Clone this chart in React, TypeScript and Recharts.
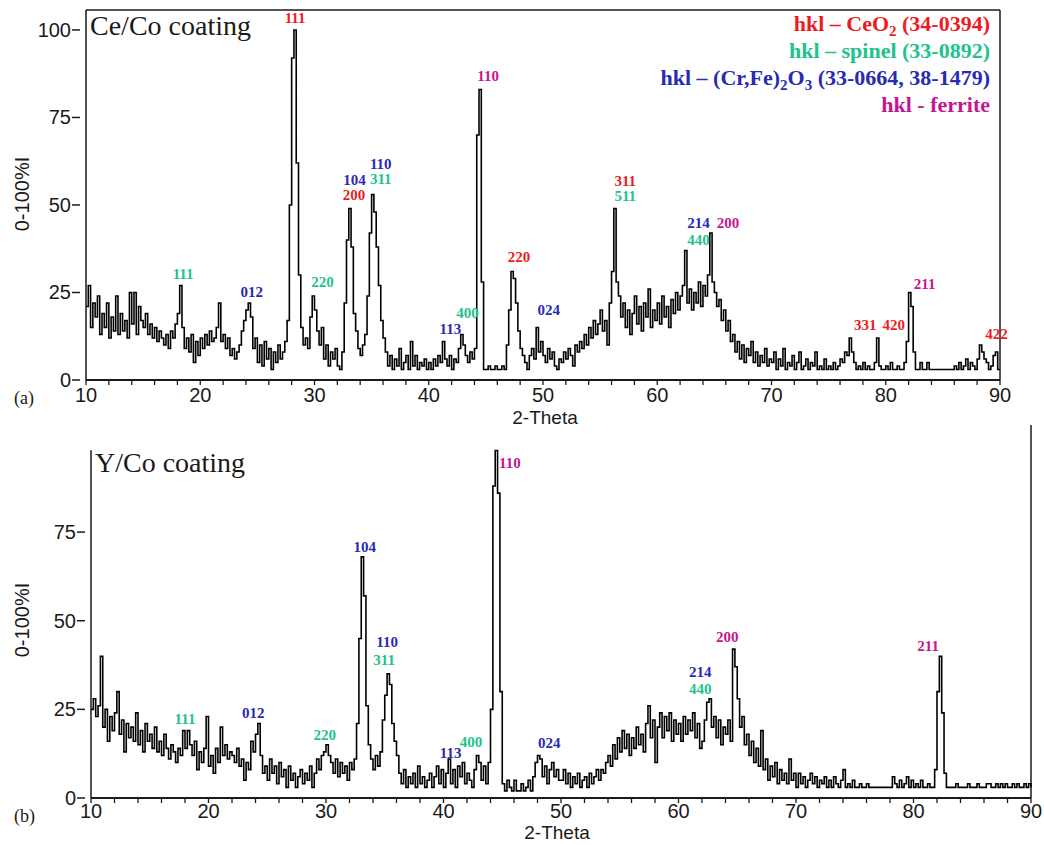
import React from "react";
import { ComposedChart, Line, Scatter, XAxis, YAxis, ReferenceLine } from "recharts";

// ─── Data ─────────────────────────────────────────────────────────────────────
// intensities (0-100 %I) from 10.0° to 89.8° 2-theta in 0.2° steps, plus 90.0°

const START = 10;
const STEP = 0.2;

const ceCo10 = [
  21, 27, 15, 22, 18, 24, 13, 19, 15, 22,
  12, 18, 14, 24, 13, 19, 14, 17, 12, 25,
  16, 25, 13, 21, 17, 15, 19, 13, 16, 12,
  15, 11, 14, 12, 10, 13, 9, 14, 12, 16,
  19, 27, 15, 9, 12, 8, 13, 5, 11, 7,
];
const ceCo20 = [
  12, 9, 13, 10, 14, 11, 12, 15, 22, 11,
  13, 9, 12, 7, 9, 6, 8, 10, 14, 17,
  20, 22, 18, 9, 12, 5, 10, 4, 11, 6,
  9, 3, 8, 5, 10, 6, 8, 11, 17, 50,
  92, 100, 62, 30, 15, 10, 12, 9, 18, 24,
];
const ceCo30 = [
  20, 14, 10, 15, 6, 10, 4, 8, 6, 9,
  4, 3, 8, 22, 40, 49, 38, 19, 14, 9,
  7, 10, 13, 24, 42, 53, 48, 38, 27, 17,
  12, 8, 4, 7, 3, 6, 4, 9, 3, 5,
  7, 3, 11, 4, 7, 3, 5, 4, 6, 3,
];
const ceCo40 = [
  5, 3, 6, 4, 7, 5, 11, 6, 4, 7,
  3, 6, 5, 9, 13, 10, 7, 5, 8, 6,
  9, 70, 83, 28, 3, 3, 4, 3, 3, 4,
  3, 3, 4, 3, 10, 20, 31, 29, 22, 14,
  9, 7, 5, 3, 7, 9, 6, 15, 8, 11,
];
const ceCo50 = [
  7, 5, 9, 6, 8, 4, 3, 6, 5, 8,
  6, 9, 7, 4, 10, 8, 11, 9, 13, 10,
  15, 12, 17, 13, 16, 20, 14, 17, 10, 22,
  31, 49, 28, 24, 18, 22, 15, 20, 13, 19,
  24, 16, 21, 14, 22, 18, 26, 15, 20, 17,
];
const ceCo60 = [
  22, 16, 24, 18, 21, 15, 23, 19, 25, 20,
  24, 27, 37, 22, 26, 20, 25, 22, 28, 21,
  27, 24, 30, 42, 28, 25, 21, 23, 17, 20,
  14, 17, 11, 13, 8, 11, 6, 10, 5, 9,
  7, 11, 5, 8, 4, 7, 5, 9, 4, 6,
];
const ceCo70 = [
  5, 8, 3, 6, 4, 9, 3, 5, 4, 7,
  3, 5, 8, 3, 4, 6, 3, 5, 4, 8,
  3, 4, 3, 6, 3, 4, 3, 5, 3, 4,
  6, 5, 8, 7, 12, 8, 5, 3, 4, 3,
  5, 3, 4, 3, 3, 5, 12, 4, 3, 3,
];
const ceCo80 = [
  4, 3, 5, 3, 3, 4, 3, 3, 5, 11,
  25, 21, 8, 3, 3, 5, 3, 3, 5, 3,
  3, 3, 3, 3, 3, 3, 3, 3, 3, 3,
  4, 3, 5, 3, 4, 6, 3, 5, 4, 3,
  6, 10, 8, 6, 5, 3, 4, 7, 8, 3,
];
const ceCoEnd = [3];

const yCo10 = [
  25, 28, 23, 26, 40, 20, 25, 16, 23, 19,
  24, 30, 18, 22, 13, 21, 17, 20, 16, 24,
  15, 19, 13, 21, 16, 18, 14, 20, 13, 16,
  12, 18, 14, 11, 15, 13, 10, 14, 12, 19,
  14, 19, 15, 12, 16, 8, 13, 10, 14, 23,
];
const yCo20 = [
  9, 12, 7, 14, 10, 20, 12, 15, 11, 13,
  12, 10, 14, 9, 11, 5, 10, 8, 16, 13,
  18, 21, 12, 7, 9, 5, 11, 7, 9, 4,
  10, 6, 8, 3, 9, 5, 7, 3, 6, 8,
  4, 7, 5, 9, 3, 7, 11, 8, 12, 13,
];
const yCo30 = [
  15, 12, 10, 7, 11, 6, 10, 7, 9, 5,
  10, 8, 11, 21, 45, 68, 57, 26, 15, 11,
  8, 12, 9, 13, 22, 29, 35, 32, 21, 16,
  12, 7, 4, 8, 3, 6, 4, 7, 3, 9,
  4, 6, 3, 5, 7, 3, 6, 9, 4, 8,
];
const yCo40 = [
  3, 7, 11, 4, 8, 3, 9, 6, 10, 4,
  7, 5, 3, 8, 12, 10, 5, 9, 4, 10,
  25, 88, 98, 86, 30, 4, 2, 5, 3, 2,
  5, 2, 2, 4, 2, 3, 5, 2, 6, 10,
  12, 11, 6, 9, 4, 8, 10, 6, 8, 5,
];
const yCo50 = [
  5, 8, 4, 7, 3, 6, 4, 7, 3, 5,
  6, 3, 7, 4, 6, 8, 5, 8, 7, 10,
  12, 9, 15, 11, 17, 13, 19, 14, 18, 12,
  17, 14, 20, 15, 18, 13, 21, 26, 17, 22,
  10, 20, 24, 17, 23, 19, 24, 16, 22, 18,
];
const yCo60 = [
  21, 16, 23, 18, 22, 19, 24, 17, 21, 14,
  16, 22, 27, 28, 20, 23, 17, 22, 15, 20,
  18, 22, 16, 42, 37, 28, 20, 23, 15, 18,
  12, 16, 10, 14, 9, 19, 8, 11, 5, 9,
  6, 10, 4, 8, 5, 7, 4, 11, 5, 7,
];
const yCo70 = [
  3, 7, 4, 6, 3, 5, 7, 4, 6, 3,
  5, 4, 6, 3, 5, 3, 6, 4, 3, 5,
  8, 3, 4, 3, 5, 3, 3, 4, 3, 3,
  4, 3, 3, 3, 3, 3, 3, 3, 3, 3,
  3, 6, 4, 3, 5, 3, 4, 6, 3, 5,
];
const yCo80 = [
  3, 4, 3, 5, 3, 3, 4, 3, 3, 8,
  30, 40, 24, 7, 3, 3, 3, 3, 4, 3,
  3, 3, 3, 4, 3, 3, 3, 4, 3, 3,
  3, 4, 4, 3, 3, 4, 3, 4, 3, 4,
  3, 3, 4, 3, 4, 3, 3, 4, 3, 4,
];
const yCoEnd = [3];

const xTicks = [10, 12, 14, 16, 18, 20, 22, 24, 26, 28, 30, 32, 34, 36, 38, 40, 42, 44, 46, 48, 50,
  52, 54, 56, 58, 60, 62, 64, 66, 68, 70, 72, 74, 76, 78, 80, 82, 84, 86, 88, 90];
const yTicksA = [0, 25, 50, 75, 100];
const yTicksB = [0, 25, 50, 75];

// hkl annotations: 2θ, %I, label, phase
const ceCoLabels = [
  { x: 28.3, y: 103.4, text: "111", phase: "ceo2" },
  { x: 18.5, y: 30.3, text: "111", phase: "spinel" },
  { x: 24.5, y: 25.1, text: "012", phase: "cr" },
  { x: 30.7, y: 28, text: "220", phase: "spinel" },
  { x: 33.5, y: 57.1, text: "104", phase: "cr" },
  { x: 33.45, y: 52.9, text: "200", phase: "ceo2" },
  { x: 35.8, y: 61.7, text: "110", phase: "cr" },
  { x: 35.8, y: 57.4, text: "311", phase: "spinel" },
  { x: 41.9, y: 14.6, text: "113", phase: "cr" },
  { x: 43.4, y: 19.1, text: "400", phase: "spinel" },
  { x: 45.2, y: 86.9, text: "110", phase: "ferrite" },
  { x: 47.9, y: 35.1, text: "220", phase: "ceo2" },
  { x: 50.5, y: 20, text: "024", phase: "cr" },
  { x: 57.2, y: 56.9, text: "311", phase: "ceo2" },
  { x: 57.2, y: 52.6, text: "511", phase: "spinel" },
  { x: 63.6, y: 44.9, text: "214", phase: "cr" },
  { x: 63.6, y: 40, text: "440", phase: "spinel" },
  { x: 66.2, y: 44.9, text: "200", phase: "ferrite" },
  { x: 78.2, y: 15.7, text: "331", phase: "ceo2" },
  { x: 80.7, y: 15.7, text: "420", phase: "ceo2" },
  { x: 83.4, y: 27.4, text: "211", phase: "ferrite" },
  { x: 89.7, y: 13.1, text: "422", phase: "ceo2" },
];

const yCoLabels = [
  { x: 18.0, y: 22.3, text: "111", phase: "spinel" },
  { x: 23.8, y: 24, text: "012", phase: "cr" },
  { x: 29.9, y: 17.8, text: "220", phase: "spinel" },
  { x: 33.3, y: 70.9, text: "104", phase: "cr" },
  { x: 35.2, y: 44.1, text: "110", phase: "cr" },
  { x: 34.95, y: 39, text: "311", phase: "spinel" },
  { x: 40.6, y: 12.7, text: "113", phase: "cr" },
  { x: 42.35, y: 15.8, text: "400", phase: "spinel" },
  { x: 45.65, y: 94.4, text: "110", phase: "ferrite" },
  { x: 49.0, y: 15.5, text: "024", phase: "cr" },
  { x: 61.85, y: 35.6, text: "214", phase: "cr" },
  { x: 61.85, y: 30.8, text: "440", phase: "spinel" },
  { x: 64.15, y: 45.5, text: "200", phase: "ferrite" },
  { x: 81.25, y: 42.9, text: "211", phase: "ferrite" },
];

// ─── Helpers ──────────────────────────────────────────────────────────────────

const PHASE_COLORS: Record<string, string> = {
  ceo2: "#ec1c24",
  spinel: "#22c28c",
  cr: "#2a2ab2",
  ferrite: "#c4168f",
};

const SANS = "'Liberation Sans', Arial, Helvetica, sans-serif";
const SERIF = "'Liberation Serif', 'Times New Roman', serif";
const INK = "#1a1a1a";

const toSeries = (parts: number[][]) =>
  parts.flat().map((v, i) => ({ x: +(START + i * STEP).toFixed(1), y: v }));

const ceCoData = toSeries([ceCo10, ceCo20, ceCo30, ceCo40, ceCo50, ceCo60, ceCo70, ceCo80, ceCoEnd]);
const yCoData = toSeries([yCo10, yCo20, yCo30, yCo40, yCo50, yCo60, yCo70, yCo80, yCoEnd]);

function XTick({ x, y, payload, labelOffset }: any) {
  const v = payload.value;
  return (
    <g>
      <line x1={x} x2={x} y1={y} y2={y + 5} stroke={INK} strokeWidth={1.3} />
      {v % 10 === 0 && (
        <text x={x} y={y + labelOffset} textAnchor="middle" fontSize={20} fontFamily={SANS} fill={INK}>
          {v}
        </text>
      )}
    </g>
  );
}

function YTick({ x, y, payload }: any) {
  return (
    <g>
      <line x1={x - 14} x2={x - 6} y1={y} y2={y} stroke={INK} strokeWidth={1.5} />
      <text x={x - 15} y={y + 7} textAnchor="end" fontSize={20} fontFamily={SANS} fill={INK}>
        {payload.value}
      </text>
    </g>
  );
}

function HklLabel(props: any) {
  const { cx, cy, payload } = props;
  return (
    <text
      x={cx}
      y={cy}
      textAnchor="middle"
      dominantBaseline="central"
      fontSize={15}
      fontWeight="bold"
      fontFamily={SERIF}
      fill={PHASE_COLORS[payload.phase]}
    >
      {payload.text}
    </text>
  );
}

// ─── Panels ───────────────────────────────────────────────────────────────────

function PanelA() {
  const yMax = 105.7;
  return (
    <ComposedChart width={1044} height={420} margin={{ top: 10, right: 44, left: 0, bottom: 0 }}>
      <XAxis
        type="number"
        dataKey="x"
        domain={[10, 90]}
        ticks={xTicks}
        interval={0}
        height={40}
        tickSize={0}
        tickMargin={0}
        tickLine={false}
        axisLine={{ stroke: INK, strokeWidth: 2 }}
        tick={<XTick labelOffset={22} />}
      />
      <YAxis
        type="number"
        dataKey="y"
        domain={[0, yMax]}
        ticks={yTicksA}
        width={86}
        tickSize={0}
        tickMargin={0}
        tickLine={false}
        axisLine={{ stroke: INK, strokeWidth: 1.5 }}
        tick={<YTick />}
      />
      <ReferenceLine y={yMax} stroke={INK} strokeWidth={1.5} />
      <ReferenceLine x={90} stroke={INK} strokeWidth={1.5} />
      <Line
        data={ceCoData}
        dataKey="y"
        type="stepAfter"
        stroke="#000"
        strokeWidth={1.6}
        dot={false}
        isAnimationActive={false}
      />
      <Scatter data={ceCoLabels} dataKey="y" shape={<HklLabel />} isAnimationActive={false} />
    </ComposedChart>
  );
}

function PanelB() {
  const yMax = 105.2;
  return (
    <ComposedChart width={1044} height={425} margin={{ top: 5, right: 13, left: 0, bottom: 0 }}>
      <XAxis
        type="number"
        dataKey="x"
        domain={[10, 90]}
        ticks={xTicks}
        interval={0}
        height={47}
        tickSize={0}
        tickMargin={0}
        tickLine={false}
        axisLine={{ stroke: INK, strokeWidth: 2 }}
        tick={<XTick labelOffset={20} />}
      />
      <YAxis
        type="number"
        dataKey="y"
        domain={[0, yMax]}
        ticks={yTicksB}
        width={91}
        tickSize={0}
        tickMargin={0}
        tickLine={false}
        axisLine={false}
        tick={<YTick />}
      />
      <ReferenceLine
        segment={[{ x: 10, y: 0 }, { x: 10, y: 98.1 }]}
        stroke={INK}
        strokeWidth={1.5}
      />
      <ReferenceLine x={90} stroke={INK} strokeWidth={1.5} />
      <Line
        data={yCoData}
        dataKey="y"
        type="stepAfter"
        stroke="#000"
        strokeWidth={1.6}
        dot={false}
        isAnimationActive={false}
      />
      <Scatter data={yCoLabels} dataKey="y" shape={<HklLabel />} isAnimationActive={false} />
    </ComposedChart>
  );
}

// ─── Main ─────────────────────────────────────────────────────────────────────

export default function App() {
  return (
    <div style={{ position: "absolute", left: 0, top: 0, width: 1044, height: 845, background: "#fff" }}>
      <div style={{ position: "absolute", left: 0, top: 0 }}>
        <PanelA />
      </div>
      <div style={{ position: "absolute", left: 0, top: 420 }}>
        <PanelB />
      </div>

      {/* titles, legend and axis captions */}
      <svg width={1044} height={845} style={{ position: "absolute", left: 0, top: 0, pointerEvents: "none" }}>
        <text x={90} y={35} fontSize={28} fontFamily={SERIF} fill={INK}>Ce/Co coating</text>
        <text x={95} y={472} fontSize={28} fontFamily={SERIF} fill={INK}>Y/Co coating</text>

        <g fontFamily={SERIF} fontWeight="bold" fontSize={22} textAnchor="end">
          <text x={990} y={31} fill={PHASE_COLORS.ceo2}>
            hkl – CeO<tspan fontSize={15} dy={5}>2</tspan>
            <tspan dy={-5}> (34-0394)</tspan>
          </text>
          <text x={990} y={58} fill={PHASE_COLORS.spinel}>hkl – spinel (33-0892)</text>
          <text x={990} y={85} fill={PHASE_COLORS.cr}>
            hkl – (Cr,Fe)<tspan fontSize={15} dy={5}>2</tspan>
            <tspan dy={-5}>O</tspan>
            <tspan fontSize={15} dy={5}>3</tspan>
            <tspan dy={-5}> (33-0664, 38-1479)</tspan>
          </text>
          <text x={990} y={112} fill={PHASE_COLORS.ferrite}>hkl - ferrite</text>
        </g>

        <text x={545} y={424} textAnchor="middle" fontSize={19} fontFamily={SANS} fill={INK}>2-Theta</text>
        <text x={557} y={839} textAnchor="middle" fontSize={19} fontFamily={SANS} fill={INK}>2-Theta</text>

        <text x={0} y={0} transform="translate(29,194) rotate(-90)" textAnchor="middle" fontSize={20} fontFamily={SANS} fill={INK}>
          0-100%I
        </text>
        <text x={0} y={0} transform="translate(29,620) rotate(-90)" textAnchor="middle" fontSize={20} fontFamily={SANS} fill={INK}>
          0-100%I
        </text>

        <text x={14} y={404} fontSize={18} fontFamily={SERIF} fill={INK}>(a)</text>
        <text x={14} y={822} fontSize={18} fontFamily={SERIF} fill={INK}>(b)</text>
      </svg>
    </div>
  );
}
